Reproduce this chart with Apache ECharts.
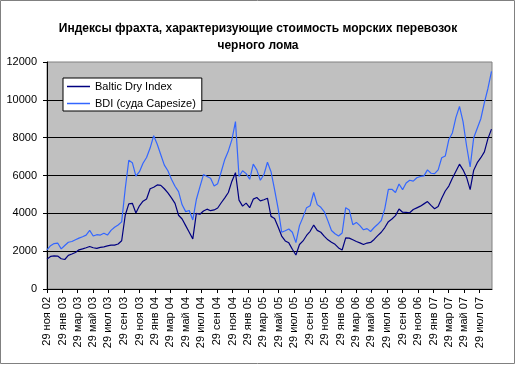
<!DOCTYPE html>
<html>
<head>
<meta charset="utf-8">
<script src="https://cdn.jsdelivr.net/npm/echarts@6/dist/echarts.min.js"></script>
<style>html,body{margin:0;padding:0;background:#fff;}#c{width:516px;height:365px;}</style>
</head>
<body>
<div id="c"></div>
<script>
const dates = [
'2002-11-29','2002-12-13','2002-12-27','2003-01-10','2003-01-24','2003-02-07','2003-02-21','2003-03-07','2003-03-21','2003-04-04',
'2003-04-18','2003-05-02','2003-05-16','2003-05-30','2003-06-13','2003-06-27','2003-07-11','2003-07-25','2003-08-08','2003-08-22',
'2003-09-05','2003-09-19','2003-10-03','2003-10-17','2003-10-31','2003-11-14','2003-11-28','2003-12-12','2003-12-26','2004-01-09',
'2004-01-23','2004-02-06','2004-02-20','2004-03-05','2004-03-19','2004-04-02','2004-04-16','2004-04-30','2004-05-14','2004-05-28',
'2004-06-11','2004-06-25','2004-07-09','2004-07-23','2004-08-06','2004-08-20','2004-09-03','2004-09-17','2004-10-01','2004-10-15',
'2004-10-29','2004-11-12','2004-11-26','2004-12-10','2004-12-24','2005-01-07','2005-01-21','2005-02-04','2005-02-18','2005-03-04',
'2005-03-18','2005-04-01','2005-04-15','2005-04-29','2005-05-13','2005-05-27','2005-06-10','2005-06-24','2005-07-08','2005-07-22',
'2005-08-05','2005-08-19','2005-09-02','2005-09-16','2005-09-30','2005-10-14','2005-10-28','2005-11-11','2005-11-25','2005-12-09',
'2005-12-23','2006-01-06','2006-01-20','2006-02-03','2006-02-17','2006-03-03','2006-03-17','2006-03-31','2006-04-14','2006-04-28',
'2006-05-12','2006-05-26','2006-06-09','2006-06-23','2006-07-07','2006-07-21','2006-08-04','2006-08-18','2006-09-01','2006-09-15',
'2006-09-29','2006-10-13','2006-10-27','2006-11-10','2006-11-24','2006-12-08','2006-12-22','2007-01-05','2007-01-19','2007-02-02',
'2007-02-16','2007-03-02','2007-03-16','2007-03-30','2007-04-13','2007-04-27','2007-05-11','2007-05-25','2007-06-08','2007-06-22',
'2007-07-06','2007-07-20','2007-08-03','2007-08-17','2007-08-31','2007-09-14'
];
const balticDry = [
1580,1720,1750,1740,1600,1560,1780,1850,1930,2070,
2120,2180,2250,2180,2150,2200,2230,2280,2320,2320,
2380,2550,3900,4500,4530,4020,4400,4640,4760,5300,
5380,5500,5480,5300,5080,4820,4530,3900,3700,3350,
3000,2650,4000,3950,4120,4220,4140,4180,4280,4560,
4820,5100,5700,6150,4700,4380,4540,4300,4750,4840,
4660,4720,4800,3840,3730,3280,2800,2540,2440,2100,
1800,2350,2540,2830,3050,3380,3100,3000,2780,2600,
2470,2360,2170,2060,2700,2690,2600,2510,2440,2350,
2430,2460,2620,2820,3000,3250,3560,3700,3880,4230,
4060,4050,4030,4200,4290,4380,4500,4620,4420,4240,
4360,4800,5180,5440,5850,6230,6600,6300,5900,5250,
6280,6680,6940,7250,7950,8450
];
const capesize = [
2070,2290,2400,2430,2120,2300,2470,2510,2600,2690,
2760,2850,3100,2800,2870,2850,2950,2850,3100,3260,
3380,3550,5300,6800,6680,5970,6200,6650,6950,7450,
8100,7650,7100,6550,6250,5800,5430,5150,4450,4090,
4150,3650,4730,5400,6050,5950,5850,5450,5570,6200,
6850,7300,7900,8850,5950,6250,6100,5800,6600,6300,
5750,6050,6700,6200,5250,4250,3000,3080,3170,3000,
2450,3350,3800,4300,4400,5100,4460,4320,4080,3600,
3090,2920,2800,2960,4300,4180,3400,3520,3350,3130,
3190,3040,3250,3420,3620,4250,5270,5270,5100,5550,
5250,5600,5750,5700,5880,5950,5980,6300,6120,6100,
6300,6940,7030,7900,8250,9070,9650,8850,7560,6450,
8000,8500,9000,9850,10600,11500
];
const tickDates = [
'2002-11-29','2003-01-29','2003-03-29','2003-05-29','2003-07-29','2003-09-29','2003-11-29',
'2004-01-29','2004-03-29','2004-05-29','2004-07-29','2004-09-29','2004-11-29',
'2005-01-29','2005-03-29','2005-05-29','2005-07-29','2005-09-29','2005-11-29',
'2006-01-29','2006-03-29','2006-05-29','2006-07-29','2006-09-29','2006-11-29',
'2007-01-29','2007-03-29','2007-05-29','2007-07-29'
];
const tickLabels = [
'29 ноя 02','29 янв 03','29 мар 03','29 май 03','29 июл 03','29 сен 03','29 ноя 03',
'29 янв 04','29 мар 04','29 май 04','29 июл 04','29 сен 04','29 ноя 04',
'29 янв 05','29 мар 05','29 май 05','29 июл 05','29 сен 05','29 ноя 05',
'29 янв 06','29 мар 06','29 май 06','29 июл 06','29 сен 06','29 ноя 06',
'29 янв 07','29 мар 07','29 май 07','29 июл 07'
];
const seriesNames = ['Baltic Dry Index', 'BDI (суда Capesize)'];
const titleText = 'Индексы фрахта, характеризующие стоимость морских перевозок\nчерного лома';

function ts(s){const p=s.split('-').map(Number);return Date.UTC(p[0],p[1]-1,p[2]);}
const tickTs = tickDates.map(ts);
const FONT = '"Liberation Sans", Arial, sans-serif';

const chart = echarts.init(document.getElementById('c'), null, {renderer:'canvas'});
chart.setOption({
  animation:false,
  backgroundColor:'#ffffff',
  title:{
    text:titleText, left:'center', top:15,
    textStyle:{fontFamily:FONT, fontSize:12, fontWeight:'bold', color:'#000', lineHeight:17}
  },
  graphic:[{type:'rect', shape:{x:0.5,y:0.5,width:514,height:363}, style:{fill:null, stroke:'#808080', lineWidth:1}, silent:true}],
  legend:{
    orient:'vertical', left:63, top:78,
    data:seriesNames,
    icon:'rect', itemWidth:23, itemHeight:1.5, itemGap:6,
    padding:[3,6,2,4],
    backgroundColor:'#fff', borderColor:'#000', borderWidth:1,
    textStyle:{fontFamily:FONT, fontSize:11, color:'#000'}
  },
  grid:{left:47, right:24, top:62, bottom:76, show:true, backgroundColor:'#c0c0c0', borderColor:'#808080', borderWidth:1},
  xAxis:{
    type:'value', min:ts('2002-11-29'), max:ts('2007-09-16'),
    axisLine:{lineStyle:{color:'#000', width:1}},
    axisTick:{customValues:tickTs, length:4, lineStyle:{color:'#000'}},
    axisLabel:{customValues:tickTs, rotate:90, margin:8, fontFamily:FONT, fontSize:11, color:'#000', hideOverlap:false,
      formatter:function(v){for(let i=0;i<tickTs.length;i++){if(Math.abs(tickTs[i]-v)<43200000)return tickLabels[i];}return '';}},
    splitLine:{show:false}
  },
  yAxis:{
    type:'value', min:0, max:12000, interval:2000,
    axisLine:{show:true, lineStyle:{color:'#000'}},
    axisTick:{show:true, length:4, lineStyle:{color:'#000'}},
    axisLabel:{margin:10, fontFamily:FONT, fontSize:11, color:'#000', formatter:function(v){return String(v);}},
    splitLine:{show:true, showMinLine:false, showMaxLine:false, lineStyle:{color:'#000', width:1}}
  },
  series:[
    {name:seriesNames[0], type:'line', symbol:'none', showSymbol:false, z:3,
     lineStyle:{color:'#000080', width:1.2}, itemStyle:{color:'#000080'},
     data:dates.map((d,i)=>[ts(d), balticDry[i]])},
    {name:seriesNames[1], type:'line', symbol:'none', showSymbol:false, z:2,
     lineStyle:{color:'#3366ff', width:1.2}, itemStyle:{color:'#3366ff'},
     data:dates.map((d,i)=>[ts(d), capesize[i]])}
  ]
});
</script>
</body>
</html>
